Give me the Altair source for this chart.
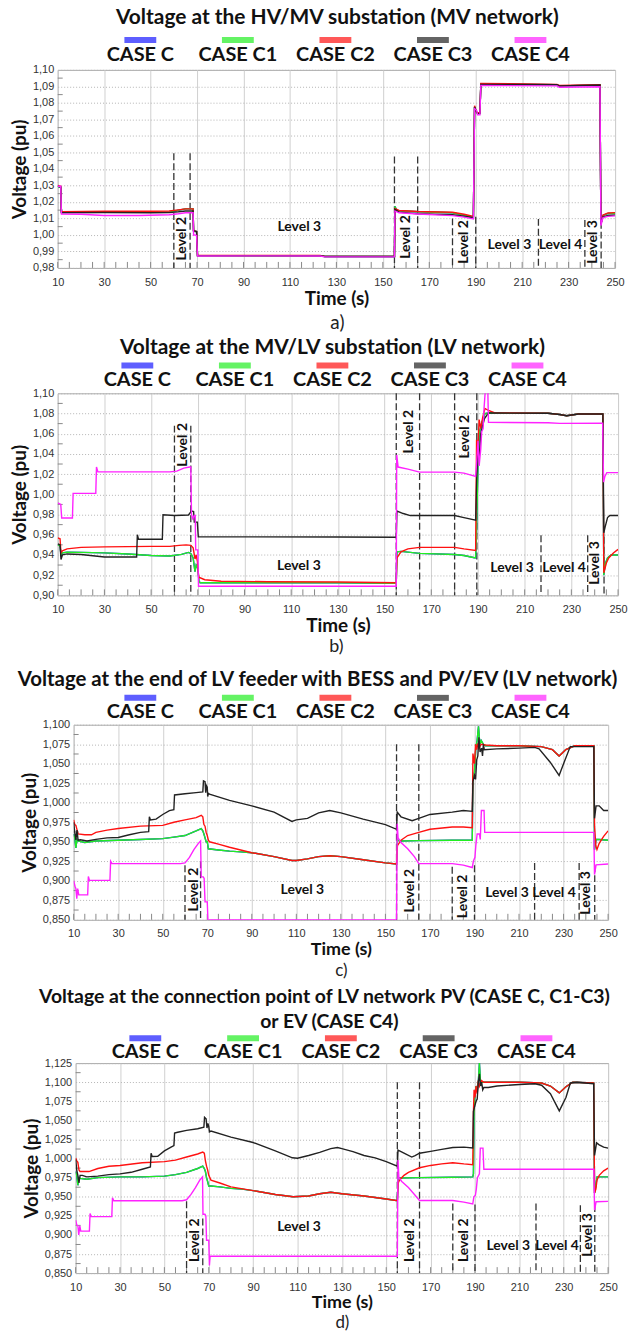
import altair as alt
import pandas as pd

FONT = "Lato"
LABEL_FONT = "Liberation Sans"

CASES = ["CASE C", "CASE C1", "CASE C2", "CASE C3", "CASE C4"]
COLORS = ["#1a1aff", "#22ee22", "#ff1111", "#222222", "#ff22ff"]
X_TICKS = [10, 30, 50, 70, 90, 110, 130, 150, 170, 190, 210, 230, 250]
X_MINOR = list(range(10, 251, 5))

# ---------------- panel a : HV/MV substation ----------------
A_TITLE = "Voltage at the HV/MV substation (MV network)"
A_YTICKS = [0.98, 0.99, 1.00, 1.01, 1.02, 1.03, 1.04, 1.05, 1.06, 1.07, 1.08, 1.09, 1.10]
A_C1 = [(10, 1.0295), (11.3, 1.029), (11.6, 1.0137), (30, 1.014), (50, 1.0138), (58, 1.0138), (62, 1.015),
        (65, 1.0158), (68.3, 1.0158), (68.5, 1.0022), (69.8, 1.002), (70.2, 0.9874), (123, 0.9874),
        (125, 0.9869), (155, 0.9869), (155.2, 1.0173), (156, 1.0148), (165, 1.014), (180, 1.0134),
        (185, 1.012), (189, 1.0105), (189.5, 1.0775), (190.4, 1.0742), (190.8, 1.0738), (191.8, 1.0738),
        (192.2, 1.0915), (225, 1.091), (226, 1.0903), (243.5, 1.0908), (243.9, 1.0068), (244.8, 1.0118),
        (247, 1.013), (250, 1.013)]
A_C = A_C1  # CASE C lies underneath CASE C1 in the picture
A_C2 = [(10, 1.030), (11.3, 1.0295), (11.6, 1.014), (30, 1.0143), (50, 1.0143), (58, 1.0145), (62, 1.0152),
        (65, 1.0158), (68.3, 1.0158), (68.5, 1.0025), (69.8, 1.002), (70.2, 0.9875), (123, 0.9875),
        (125, 0.987), (155, 0.987), (155.2, 1.016), (157, 1.0148), (165, 1.0142), (180, 1.0137),
        (185, 1.0125), (189, 1.0112), (189.5, 1.0783), (190.4, 1.0742), (190.8, 1.074), (191.8, 1.074),
        (192.2, 1.0918), (225, 1.0912), (226, 1.0905), (243.5, 1.091), (243.9, 1.007), (244.8, 1.012),
        (247, 1.0133), (250, 1.0135)]
A_C3 = [(10, 1.0295), (11.3, 1.029), (11.6, 1.0134), (30, 1.0136), (50, 1.0134), (58, 1.0135), (62, 1.014),
        (65, 1.0145), (68.3, 1.0145), (68.5, 1.0025), (69.8, 1.002), (70.2, 0.9875), (123, 0.9874),
        (125, 0.9869), (155, 0.9869), (155.2, 1.0155), (157, 1.0138), (165, 1.0128), (180, 1.0122),
        (185, 1.0113), (189, 1.0105), (189.5, 1.0775), (190.4, 1.0745), (190.8, 1.0735), (191.8, 1.0735),
        (192.2, 1.0912), (225, 1.091), (226, 1.0902), (243.5, 1.0908), (243.9, 1.0065), (244.8, 1.011),
        (247, 1.0118), (250, 1.012)]
A_C4 = [(10, 1.0295), (11.3, 1.0295), (11.6, 1.0127), (20, 1.0125), (30, 1.0118), (45, 1.0118), (58, 1.0122),
        (62, 1.0128), (65, 1.0134), (68.3, 1.0134), (68.5, 0.9998), (69.3, 1.0), (69.8, 0.9995),
        (70.2, 0.9872), (100, 0.9873), (123, 0.9872), (125, 0.9867), (155, 0.9867), (155.2, 1.0145),
        (157, 1.0134), (165, 1.0127), (180, 1.0117), (185, 1.0108), (189, 1.0097), (189.5, 1.0765),
        (190.4, 1.0755), (190.8, 1.0728), (191.8, 1.0728), (192.2, 1.0905), (225, 1.0903), (226, 1.0895),
        (243.5, 1.0898), (243.9, 1.0057), (244.8, 1.0105), (247, 1.0112), (250, 1.0115)]
A_RULES = [(60, 1.0495), (67, 1.0495), (155, 1.0475), (165, 1.0475), (180, 1.010), (190, 1.011),
           (217, 1.0097), (237, 1.009), (244, 1.008)]
A_LABELS_H = [(114, 1.0047, "Level 3"), (204.5, 0.9937, "Level 3"), (226.5, 0.994, "Level 4")]
A_LABELS_V = [(63.5, 0.9977, "Level 2"), (159.8, 0.9987, "Level 2"), (184.8, 0.9957, "Level 2"),
              (240.3, 0.9957, "Level 3")]

# ---------------- panel b : MV/LV substation ----------------
B_TITLE = "Voltage at the MV/LV substation (LV network)"
B_YTICKS = [0.90, 0.92, 0.94, 0.96, 0.98, 1.00, 1.02, 1.04, 1.06, 1.08, 1.10]
B_C1 = [(10, 0.950), (11, 0.949), (11.4, 0.940), (12, 0.942), (14, 0.9428), (20, 0.9425), (30, 0.942),
        (40, 0.941), (50, 0.9395), (58, 0.939), (63, 0.9405), (66, 0.9425), (67, 0.9415), (68, 0.937),
        (68.8, 0.9235), (69.3, 0.930), (70, 0.927), (70.5, 0.914), (71, 0.9125), (80, 0.9125), (130, 0.9125),
        (155, 0.912), (155.3, 0.9431), (157, 0.9435), (165, 0.9415), (180, 0.9405), (184, 0.9395),
        (188.5, 0.9372), (189, 0.9372), (189.4, 0.965), (190, 1.03), (190.5, 1.06), (191.5, 1.07),
        (193, 1.08), (194.5, 1.0805), (220, 1.0803), (225, 1.079), (228, 1.0778), (233, 1.0795),
        (243.5, 1.0795), (243.9, 0.920), (244.5, 0.931), (245.5, 0.937), (247, 0.940), (250, 0.940)]
B_C = B_C1  # CASE C lies underneath CASE C1 in the picture
B_C2 = [(10, 0.957), (11, 0.956), (11.4, 0.942), (12, 0.944), (14, 0.946), (20, 0.9475), (30, 0.948),
        (50, 0.9485), (58, 0.9485), (62, 0.9495), (65, 0.950), (67, 0.9495), (68, 0.947), (68.8, 0.936),
        (69.3, 0.940), (69.8, 0.934), (70.4, 0.918), (73, 0.9155), (80, 0.914), (100, 0.9135),
        (130, 0.9132), (155, 0.9125), (155.3, 0.937), (157, 0.943), (160, 0.946), (165, 0.9475),
        (180, 0.9475), (184, 0.946), (189, 0.9445), (189.4, 1.054), (190, 1.048), (190.5, 1.074),
        (191.2, 1.065), (192, 1.076), (193, 1.085), (194.5, 1.083), (197, 1.0808), (220, 1.0803),
        (225, 1.079), (228, 1.0778), (233, 1.0795), (243.5, 1.0795), (243.9, 0.9224), (245, 0.932),
        (246, 0.937), (248, 0.942), (250, 0.9455)]
B_C3 = [(10, 0.951), (11, 0.950), (11.4, 0.9355), (12, 0.940), (14, 0.941), (20, 0.9405), (30, 0.938),
        (43.8, 0.938), (44.1, 0.960), (44.6, 0.9555), (54.8, 0.9555), (55.1, 0.9798), (60, 0.979),
        (66, 0.9795), (67.3, 0.9835), (68.2, 0.983), (68.5, 0.9725), (69.8, 0.9725), (70.2, 0.958),
        (130, 0.9578), (155, 0.9575), (155.3, 0.9835), (158, 0.981), (161, 0.979), (180, 0.979),
        (184, 0.977), (189, 0.9745), (189.5, 1.02), (190, 1.04), (190.5, 1.035), (191.2, 1.06),
        (192, 1.068), (192.8, 1.075), (194, 1.079), (194.6, 1.0805), (220, 1.0803), (225, 1.079),
        (228, 1.0778), (233, 1.0795), (243.5, 1.0795), (243.9, 0.962), (244.5, 0.968), (245.5, 0.977),
        (246.5, 0.979), (250, 0.979)]
B_C4 = [(10, 0.9915), (11.3, 0.990), (11.7, 0.9765), (16.3, 0.9765), (16.6, 1.001), (26.3, 1.001),
        (26.6, 1.027), (27.2, 1.0222), (58, 1.0222), (61, 1.023), (64, 1.026), (66.5, 1.027), (67, 1.027),
        (67.3, 0.980), (67.8, 0.976), (68.5, 0.979), (68.9, 0.979), (69.1, 0.945), (70.0, 0.945),
        (70.3, 0.909), (155, 0.909), (155.2, 1.039), (155.8, 1.027), (160, 1.025), (165, 1.022),
        (180, 1.022), (184, 1.021), (189, 1.0178), (189.4, 1.03), (190, 1.053), (190.5, 1.028),
        (191.2, 1.045), (191.6, 1.062), (192.2, 1.065), (192.6, 1.085), (193.2, 1.105), (194.2, 1.105),
        (194.5, 1.0712), (220, 1.0708), (225, 1.0702), (243.4, 1.0705), (243.8, 1.012), (244.4, 1.018),
        (245.2, 1.0215), (250, 1.0215)]
B_RULES = [(60, 1.068), (67, 1.068), (155, 1.10), (165, 1.10), (180, 1.10), (189.5, 1.10),
           (217, 0.9594), (237, 0.9594), (244, 0.958)]
B_LABELS_H = [(113.3, 0.929, "Level 3"), (204.6, 0.9273, "Level 3"), (226.9, 0.9273, "Level 4")]
B_LABELS_V = [(63.5, 1.049, "Level 2"), (160.4, 1.062, "Level 2"), (184.5, 1.057, "Level 2"),
              (240.2, 0.932, "Level 3")]

# ---------------- panel c : end of LV feeder ----------------
C_TITLE = "Voltage at the end of LV feeder with BESS and PV/EV (LV network)"
C_YTICKS = [0.85, 0.875, 0.90, 0.925, 0.95, 0.975, 1.00, 1.025, 1.05, 1.075, 1.10]
C_C1 = [(10, 0.960), (10.5, 0.955), (11, 0.942), (11.5, 0.953), (12, 0.951), (15, 0.949), (20, 0.951),
        (30, 0.952), (40, 0.953), (50, 0.954), (55, 0.956), (60, 0.958), (65, 0.964), (67.3, 0.967),
        (68, 0.964), (68.5, 0.960), (69, 0.955), (69.5, 0.950), (70, 0.950), (70.5, 0.941), (75, 0.9395),
        (80, 0.938), (85, 0.937), (90, 0.936), (100, 0.931), (108, 0.926), (110, 0.926), (115, 0.928),
        (120, 0.931), (125, 0.932), (130, 0.931), (140, 0.927), (150, 0.923), (155, 0.9215),
        (155.4, 0.952), (157, 0.951), (165, 0.9515), (180, 0.952), (189, 0.952), (189.3, 1.03),
        (190, 1.04), (190.6, 1.07), (191.2, 1.08), (191.8, 1.098), (192.4, 1.075), (193, 1.08),
        (194, 1.075), (195, 1.073), (200, 1.073), (210, 1.073), (220, 1.072), (225, 1.068), (228, 1.060),
        (231, 1.068), (235, 1.073), (243.6, 1.073), (243.9, 0.94), (244.6, 0.953), (246, 0.953),
        (250, 0.952)]
C_C = C_C1  # CASE C lies underneath CASE C1 in the picture
C_C2 = [(10, 0.978), (10.5, 0.972), (11, 0.971), (12, 0.960), (15, 0.959), (18, 0.959), (20, 0.962),
        (25, 0.965), (30, 0.967), (40, 0.970), (50, 0.971), (55, 0.975), (60, 0.978), (65, 0.981),
        (67.3, 0.984), (68, 0.982), (68.5, 0.972), (69, 0.970), (69.5, 0.962), (70, 0.958), (70.5, 0.952),
        (71, 0.950), (75, 0.947), (80, 0.943), (90, 0.936), (100, 0.931), (108, 0.926), (110, 0.926),
        (115, 0.928), (120, 0.931), (125, 0.932), (130, 0.931), (140, 0.927), (150, 0.923),
        (155, 0.9215), (155.4, 0.945), (157, 0.952), (160, 0.958), (165, 0.962), (170, 0.966),
        (180, 0.969), (185, 0.969), (189, 0.968), (189.3, 1.063), (190, 1.05), (190.5, 1.075),
        (191, 1.068), (191.5, 1.076), (192, 1.070), (193, 1.075), (195, 1.074), (200, 1.073),
        (210, 1.073), (220, 1.072), (225, 1.068), (228, 1.060), (231, 1.068), (235, 1.073),
        (243.6, 1.073), (243.9, 0.97), (244.5, 0.945), (245, 0.940), (246, 0.948), (248, 0.957),
        (250, 0.964)]
C_C3 = [(10, 0.975), (10.5, 0.962), (11, 0.9525), (11.5, 0.965), (12, 0.952), (13, 0.9525), (16, 0.951),
        (20, 0.953), (25, 0.955), (30, 0.9555), (35, 0.959), (40, 0.962), (43.7, 0.963), (44, 0.982),
        (44.5, 0.978), (47, 0.979), (50, 0.985), (53, 0.990), (55, 0.991), (55.3, 1.010), (60, 1.0115),
        (65, 1.013), (68, 1.014), (68.3, 1.028), (69, 1.027), (69.3, 1.013), (69.6, 1.022), (70, 1.02),
        (70.2, 1.008), (70.5, 1.012), (71, 1.011), (80, 1.003), (90, 0.996), (100, 0.988), (108, 0.976),
        (110, 0.978), (115, 0.980), (120, 0.987), (125, 0.990), (130, 0.987), (140, 0.979), (150, 0.972),
        (155, 0.966), (155.3, 0.988), (157, 0.982), (162, 0.977), (165, 0.980), (170, 0.985),
        (180, 0.988), (185, 0.990), (189, 0.989), (189.3, 1.027), (190, 1.035), (190.5, 1.030),
        (191, 1.055), (191.5, 1.060), (192, 1.084), (192.5, 1.065), (193.2, 1.070), (193.6, 1.060),
        (194, 1.075), (194.4, 1.068), (200, 1.069), (210, 1.070), (217, 1.071), (219, 1.069),
        (224, 1.052), (228, 1.035), (230, 1.050), (233, 1.072), (243.6, 1.072), (243.9, 0.980),
        (244.6, 0.996), (246, 0.996), (248, 0.990), (250, 0.990)]
C_C4 = [(10, 0.900), (10.6, 0.893), (11, 0.890), (11.4, 0.877), (11.8, 0.890), (12.3, 0.882), (16.3, 0.882),
        (16.6, 0.9055), (17.1, 0.9005), (26.3, 0.9005), (26.6, 0.925), (27.2, 0.922), (58, 0.922),
        (60, 0.923), (62, 0.930), (64, 0.940), (66, 0.948), (67, 0.951), (67.3, 0.905), (68.2, 0.905),
        (68.6, 0.903), (69, 0.873), (70, 0.873), (70.3, 0.850), (155, 0.850), (155.3, 0.973),
        (155.7, 0.955), (157, 0.949), (160, 0.941), (163, 0.931), (165, 0.922), (180, 0.922),
        (185, 0.920), (189, 0.917), (189.5, 0.925), (190.2, 0.93), (190.6, 0.945), (191.2, 0.96),
        (192.2, 0.96), (192.6, 0.953), (193.1, 0.99), (194.3, 0.99), (194.6, 0.962), (243.6, 0.962),
        (243.9, 0.908), (244.6, 0.9205), (250, 0.9215)]
C_RULES = [(60, 0.920), (67, 0.925), (155, 1.075), (165, 1.075), (180, 0.918), (190, 0.920),
           (217, 0.9227), (237, 0.9227), (244, 0.920)]
C_LABELS_H = [(112.7, 0.8887, "Level 3"), (204.6, 0.8845, "Level 3"), (225.7, 0.8845, "Level 4")]
C_LABELS_V = [(64.2, 0.8887, "Level 2"), (161, 0.8874, "Level 2"), (185, 0.880, "Level 2"),
              (240, 0.8845, "Level 3")]

# ---------------- panel d : connection point of PV / EV ----------------
D_TITLE_1 = "Voltage at the connection point of LV network  PV (CASE C, C1-C3)"
D_TITLE_2 = "or EV (CASE C4)"
D_YTICKS = [0.85, 0.875, 0.90, 0.925, 0.95, 0.975, 1.00, 1.025, 1.05, 1.075, 1.10, 1.125]
D_C1 = [(10, 0.983), (10.5, 0.978), (11, 0.965), (11.5, 0.975), (12, 0.974), (15, 0.973), (20, 0.975),
        (30, 0.976), (40, 0.976), (50, 0.977), (55, 0.979), (60, 0.982), (65, 0.987), (67.3, 0.990),
        (68, 0.987), (68.5, 0.983), (69, 0.975), (69.5, 0.970), (70, 0.964), (71, 0.964), (75, 0.963),
        (80, 0.961), (85, 0.960), (90, 0.958), (100, 0.953), (108, 0.950), (115, 0.951), (120, 0.954),
        (125, 0.9558), (130, 0.954), (140, 0.951), (150, 0.947), (155, 0.9447), (155.4, 0.9746),
        (165, 0.975), (180, 0.9755), (189, 0.976), (189.3, 0.98), (189.6, 1.06), (190, 1.085),
        (190.5, 1.095), (191, 1.09), (191.5, 1.10), (192, 1.125), (192.5, 1.10), (194, 1.100),
        (200, 1.100), (210, 1.100), (220, 1.099), (224, 1.095), (228, 1.086), (231, 1.094), (234, 1.100),
        (243.5, 1.099), (243.9, 0.955), (244.5, 0.965), (245, 0.976), (250, 0.976)]
D_C = D_C1  # CASE C lies underneath CASE C1 in the picture
D_C2 = [(10, 1.0007), (10.5, 0.997), (11, 0.995), (11.5, 0.985), (12, 0.983), (16, 0.983), (20, 0.987),
        (25, 0.990), (30, 0.991), (40, 0.9946), (50, 0.996), (55, 0.998), (60, 1.002), (65, 1.006),
        (67.3, 1.0085), (68, 1.007), (68.5, 0.997), (69, 0.990), (69.5, 0.985), (70, 0.978), (70.5, 0.975),
        (71, 0.9716), (75, 0.968), (80, 0.963), (90, 0.958), (100, 0.953), (108, 0.950), (115, 0.951),
        (120, 0.954), (125, 0.9558), (130, 0.954), (140, 0.951), (150, 0.947), (155, 0.9447),
        (155.4, 0.968), (156, 0.972), (158, 0.978), (160, 0.982), (165, 0.988), (170, 0.991),
        (175, 0.993), (180, 0.9946), (185, 0.993), (189, 0.992), (189.3, 1.06), (189.6, 1.09),
        (190, 1.08), (190.5, 1.095), (191, 1.085), (191.5, 1.102), (192, 1.095), (193, 1.102),
        (194, 1.100), (200, 1.100), (210, 1.100), (220, 1.099), (224, 1.095), (228, 1.086), (231, 1.094),
        (234, 1.100), (243.5, 1.099), (243.9, 0.955), (244.5, 0.960), (245, 0.972), (246, 0.978),
        (248, 0.984), (250, 0.9876)]
D_C3 = [(10, 0.999), (10.5, 0.985), (11, 0.978), (11.5, 0.968), (12, 0.978), (13, 0.978), (15, 0.976),
        (20, 0.977), (25, 0.979), (30, 0.980), (35, 0.982), (40, 0.986), (43.7, 0.989), (44, 1.007),
        (44.5, 1.0028), (47, 1.003), (50, 1.010), (53, 1.015), (54.3, 1.017), (54.6, 1.0334), (56, 1.0345),
        (60, 1.037), (65, 1.039), (67.8, 1.041), (68.1, 1.054), (68.8, 1.052), (69.2, 1.040), (69.6, 1.046),
        (70, 1.042), (70.3, 1.035), (71, 1.036), (80, 1.028), (90, 1.021), (100, 1.010), (107.7, 1.001),
        (110, 1.0005), (115, 1.004), (120, 1.008), (125, 1.013), (128, 1.0145), (130, 1.013), (135, 1.009),
        (140, 1.004), (145, 1.001), (150, 0.996), (155, 0.990), (155.3, 1.011), (156, 1.010), (158, 1.007),
        (161.5, 1.002), (163, 1.004), (165, 1.007), (170, 1.0095), (175, 1.012), (180, 1.0145),
        (185, 1.015), (189, 1.014), (189.3, 1.062), (190, 1.07), (190.5, 1.075), (191, 1.078),
        (191.5, 1.10), (192, 1.111), (192.5, 1.095), (193, 1.100), (193.5, 1.090), (194, 1.093),
        (196, 1.093), (200, 1.095), (210, 1.097), (217, 1.098), (220, 1.096), (224, 1.085),
        (228, 1.0625), (231, 1.080), (233, 1.099), (236, 1.100), (243.5, 1.098), (243.9, 1.004),
        (244.8, 1.0206), (246, 1.018), (248, 1.015), (250, 1.0137)]
D_C4 = [(10, 0.9195), (10.5, 0.913), (11, 0.912), (11.4, 0.900), (11.9, 0.912), (12.3, 0.905), (16.2, 0.905),
        (16.5, 0.928), (17, 0.924), (26.3, 0.924), (26.6, 0.9486), (27.2, 0.9447), (58, 0.9447),
        (60, 0.946), (62, 0.953), (64, 0.962), (66, 0.972), (67.2, 0.976), (67.4, 0.927), (68.3, 0.927),
        (68.7, 0.925), (69, 0.893), (70, 0.893), (70.3, 0.860), (70.6, 0.872), (155, 0.872),
        (155.3, 0.998), (155.7, 0.975), (157, 0.970), (160, 0.962), (163, 0.952), (165, 0.945),
        (180, 0.945), (185, 0.943), (189, 0.9405), (189.5, 0.950), (190.2, 0.952), (190.6, 0.960),
        (191.1, 0.975), (192, 0.98), (192.4, 1.0137), (193.6, 1.0137), (194, 0.986), (243.6, 0.986),
        (243.9, 0.9325), (244.6, 0.9435), (250, 0.944)]
D_RULES = [(60, 0.944), (67.3, 0.9216), (155, 1.100), (165, 1.100), (180, 0.941), (190, 0.940),
           (217.5, 0.941), (237.5, 0.939), (244, 0.939)]
D_LABELS_H = [(110.7, 0.911, "Level 3"), (205, 0.886, "Level 3"), (227, 0.886, "Level 4")]
D_LABELS_V = [(64, 0.893, "Level 2"), (160.6, 0.893, "Level 2"), (185.2, 0.893, "Level 2"),
              (241, 0.900, "Level 3")]

PIN_LEFT = 56  # common left extent of every panel; the spacer supplies the rest

PANELS = [
    dict(series=[A_C, A_C1, A_C2, A_C3, A_C4], yticks=A_YTICKS, fmt=".2f", rules=A_RULES,
         lh=A_LABELS_H, lv=A_LABELS_V, titles=[(A_TITLE, 281, -52)], title_size=21, caption="a)",
         w=560, h=199, left=57, pin=(66, 66), leg=(83, 475), sw_y=-30, lab_y=-15, cap=(281, 55),
         xlp=9, xtp=2, tsize=19, csize=19),
    dict(series=[B_C, B_C1, B_C2, B_C3, B_C4], yticks=B_YTICKS, fmt=".2f", rules=B_RULES,
         lh=B_LABELS_H, lv=B_LABELS_V, titles=[(B_TITLE, 276, -46)], title_size=21, caption="b)",
         w=563, h=203, left=57, pin=(58, 59), leg=(80, 472), sw_y=-28, lab_y=-13, cap=(280, 52),
         xlp=8, xtp=2, tsize=19, csize=18),
    dict(series=[C_C, C_C1, C_C2, C_C3, C_C4], yticks=C_YTICKS, fmt=".3f", rules=C_RULES,
         lh=C_LABELS_H, lv=C_LABELS_V, titles=[(C_TITLE, 245, -45)], title_size=20.5, caption="c)",
         w=537, h=196, left=71, pin=(67, 62), leg=(67, 459), sw_y=-27, lab_y=-13, cap=(269, 51),
         xlp=8, xtp=2, tsize=18, csize=17),
    dict(series=[D_C, D_C1, D_C2, D_C3, D_C4], yticks=D_YTICKS, fmt=".3f", rules=D_RULES,
         lh=D_LABELS_H, lv=D_LABELS_V, titles=[(D_TITLE_1, 250, -66), (D_TITLE_2, 255, -41)],
         title_size=19.5, caption="d)", w=535, h=211, left=75, pin=(80, 60), leg=(70, 463), sw_y=-25,
         lab_y=-11, cap=(268, 50), xlp=8, xtp=2, tsize=18, csize=17),
]


def one(**kw):
    return pd.DataFrame([kw])


def build_panel(p):
    w, h = p["w"], p["h"]
    yt = p["yticks"]
    xs = alt.Scale(domain=[10, 250], nice=False, zero=False)
    ys = alt.Scale(domain=[yt[0], yt[-1]], nice=False, zero=False)
    xax = alt.Axis(values=X_TICKS, title="Time (s)", grid=True, gridColor="#d0d0d0", ticks=False,
                   tickSize=0, domain=False, labelFont=LABEL_FONT, labelFontSize=11, labelColor="#333",
                   labelPadding=p["xlp"], labelFlush=False, labelOverlap=False, titleFont=FONT,
                   titleFontSize=p["tsize"], titleFontWeight="bold", titleColor="#111",
                   titlePadding=p["xtp"])
    yax = alt.Axis(values=yt, labelExpr="replace(format(datum.value, '%s'), '.', ',')" % p["fmt"],
                   title="Voltage (pu)", grid=True, gridColor="#b4b4b4", gridDash=[1, 2], ticks=False,
                   tickSize=0, domain=False, labelFont=LABEL_FONT, labelFontSize=11, labelColor="#333",
                   labelPadding=4, labelFlush=False, labelOverlap=False, titleFont=FONT, titleFontSize=19,
                   titleFontWeight="bold", titleColor="#111", titlePadding=3)

    def X(f="t"):
        return alt.X(f"{f}:Q", scale=xs, axis=xax)

    def Y(f="v"):
        return alt.Y(f"{f}:Q", scale=ys, axis=yax)

    layers = []
    # minor ticks inside the frame
    layers.append(alt.Chart(pd.DataFrame({"t": X_MINOR})).mark_rule(color="#888", strokeWidth=1)
                  .encode(x=X(), y=alt.value(h - 6), y2=alt.value(h)))
    mids = [(a + b) / 2 for a, b in zip(yt[:-1], yt[1:])]
    layers.append(alt.Chart(pd.DataFrame({"v": mids})).mark_rule(color="#888", strokeWidth=1)
                  .encode(y=Y(), x=alt.value(0), x2=alt.value(5)))
    # dashed level boundaries
    rdf = pd.DataFrame(p["rules"], columns=["t", "v"])
    layers.append(alt.Chart(rdf).mark_rule(color="#333", strokeWidth=1.3, strokeDash=[7, 3])
                  .encode(x=X(), y=Y(), y2=alt.value(h)))
    # series
    for color, pts in zip(COLORS, p["series"]):
        df = pd.DataFrame(pts, columns=["t", "v"])
        df["i"] = range(len(df))
        layers.append(alt.Chart(df).mark_line(color=color, strokeWidth=1.4, clip=True)
                      .encode(x=X(), y=Y(), order="i:Q"))
    # level labels
    hdf = pd.DataFrame(p["lh"], columns=["t", "v", "label"])
    layers.append(alt.Chart(hdf).mark_text(font=FONT, fontWeight="bold", fontSize=14, color="#111")
                  .encode(x=X(), y=Y(), text="label:N"))
    vdf = pd.DataFrame(p["lv"], columns=["t", "v", "label"])
    layers.append(alt.Chart(vdf).mark_text(font=FONT, fontWeight="bold", fontSize=14, color="#111",
                                           angle=270)
                  .encode(x=X(), y=Y(), text="label:N"))
    # titles
    for text, tx, ty in p["titles"]:
        layers.append(alt.Chart(one(s=text)).mark_text(font=FONT, fontWeight="bold",
                                                       fontSize=p["title_size"], color="#111")
                      .encode(x=alt.value(tx), y=alt.value(ty), text="s:N"))
    # caption
    cx, cy = p["cap"]
    layers.append(alt.Chart(one(s=p["caption"])).mark_text(font=FONT, fontSize=p["csize"], color="#222")
                  .encode(x=alt.value(cx), y=alt.value(h + cy), text="s:N"))
    # invisible extent pin (keeps the panel's outer box)
    pt, pb = p["pin"]
    layers.append(alt.Chart(one(s="")).mark_rule(strokeOpacity=0, strokeWidth=0)
                  .encode(x=alt.value(-PIN_LEFT), y=alt.value(-pt), y2=alt.value(h + pb)))

    inner = alt.layer(*layers)

    leg = pd.DataFrame({"case": CASES, "color": COLORS})
    lx = alt.Scale(type="point", domain=CASES, range=list(p["leg"]), padding=0)
    sw = alt.Chart(leg).mark_tick(orient="horizontal", size=32, thickness=6).encode(
        x=alt.X("case:N", scale=lx, axis=None), y=alt.value(p["sw_y"]),
        color=alt.Color("color:N", scale=None))
    lab = alt.Chart(leg).mark_text(font=FONT, fontWeight="bold", fontSize=20, color="#111").encode(
        x=alt.X("case:N", scale=lx, axis=None), y=alt.value(p["lab_y"]), text="case:N")
    legend = alt.layer(sw, lab)

    panel = alt.layer(inner, legend).resolve_scale(x="independent").properties(width=w, height=h)

    # invisible spacer column that shifts the panel to its own left position
    s = p["left"] - PIN_LEFT
    spacer = alt.Chart(one(s="")).mark_rule(strokeOpacity=0, strokeWidth=0).encode(
        x=alt.value(0), x2=alt.value(s), y=alt.value(0)
    ).properties(width=1, height=1, view=alt.ViewBackground(strokeOpacity=0))
    return alt.hconcat(spacer, panel, spacing=0)


chart = alt.vconcat(*[build_panel(p) for p in PANELS], spacing=0).properties(
    padding=0, background="white"
).configure_view(stroke="#a8a8a8", strokeWidth=1)

chart.save("out.html", embed_options={"renderer": "svg", "actions": False})
